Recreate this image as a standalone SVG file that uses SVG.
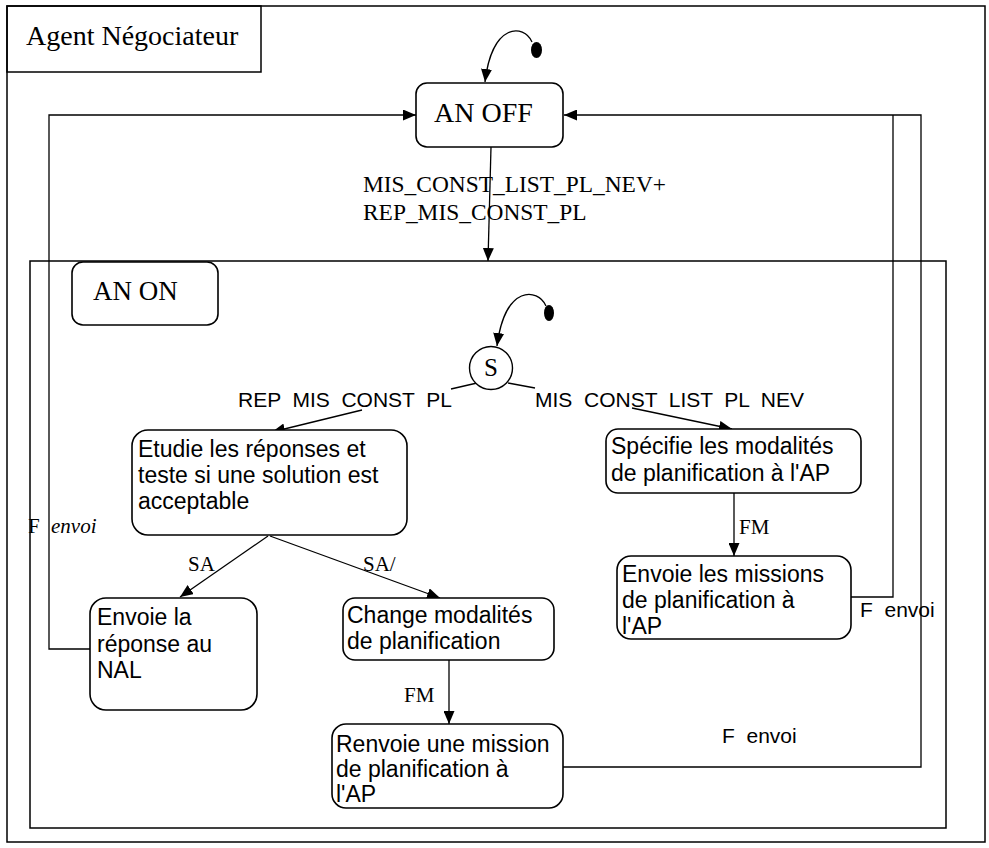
<svg xmlns="http://www.w3.org/2000/svg" width="989" height="848" viewBox="0 0 989 848">
<style>
.frame{fill:none;stroke:#000;stroke-width:1.5}
.box{fill:#fff;stroke:#000;stroke-width:1.6}
.ln{fill:none;stroke:#000;stroke-width:1.3}
.arr{fill:none;stroke:#000;stroke-width:1.3;marker-end:url(#ah)}
.serif{font-family:"Liberation Serif","Times New Roman",serif;fill:#000}
.sans{font-family:"Liberation Sans",Arial,sans-serif;fill:#000}
.big{font-size:28px}
.st{font-size:23px}
.tl{font-size:21px;word-spacing:5.8px}
.ts{font-size:21px}
</style>
<defs>
<marker id="ah" markerUnits="userSpaceOnUse" markerWidth="13" markerHeight="11" refX="13" refY="5.5" orient="auto">
<path d="M0,0 L13,5.5 L0,11 z" fill="#000"/>
</marker>
</defs>
<rect width="989" height="848" fill="#fff"/>

<g id="frame">
<rect class="frame" x="7" y="6" width="978" height="836"/>
<rect class="frame" x="7" y="6" width="254" height="66"/>
<text class="serif big" x="26" y="45">Agent Négociateur</text>
</g>

<g id="an-on">
<rect class="frame" x="30" y="261" width="916" height="567"/>
<rect class="box" x="72" y="262" width="146" height="63" rx="11"/>
<text class="serif" font-size="27" x="93" y="300">AN ON</text>
</g>

<g id="connectors">
<ellipse cx="536.5" cy="50" rx="5.5" ry="8" fill="#000"/>
<path class="arr" d="M532,42 C524,24 492,22 485,82"/>
<path class="arr" d="M491,147 L488,261"/>
<text class="serif" font-size="23.4" x="363" y="192">MIS_CONST_LIST_PL_NEV+</text>
<text class="serif" font-size="23.4" x="363" y="220">REP_MIS_CONST_PL</text>

<ellipse cx="549" cy="313" rx="5" ry="8" fill="#000"/>
<path class="arr" d="M546,306 C538,288 505,284 497,346"/>

<path class="ln" d="M477,383 L451,389"/>
<path class="arr" d="M362,410 L272,432"/>
<text class="sans tl" x="238" y="407">REP MIS CONST PL</text>

<path class="ln" d="M508,383 L535,388"/>
<path class="arr" d="M632,408 L732,429"/>
<text class="sans tl" x="535" y="407">MIS CONST LIST PL NEV</text>

<path class="arr" d="M268,536 L180,597"/>
<text class="serif ts" x="188" y="571">SA</text>
<path class="arr" d="M270,536 L440,598"/>
<text class="serif ts" x="363" y="571">SA/</text>

<path class="arr" d="M734,493 L734,556"/>
<text class="serif ts" x="739" y="534">FM</text>

<path class="arr" d="M449,660 L449,724"/>
<text class="serif ts" x="404" y="702">FM</text>

<path class="arr" d="M90,649 L49,649 L49,115 L416,115"/>
<text class="serif ts" x="28" y="533">F</text>
<text class="serif ts" x="51" y="533" font-style="italic">envoi</text>

<path class="arr" d="M563,767 L921,767 L921,115 L564,115"/>
<path class="ln" d="M851,597 L893,597 L893,115"/>
<text class="sans tl" x="860" y="617">F envoi</text>
<text class="sans tl" x="722" y="743">F envoi</text>
</g>

<g id="an-off">
<rect class="box" x="416" y="83" width="147" height="64" rx="11"/>
<text class="serif big" x="434" y="122">AN OFF</text>
</g>

<g id="s-junction">
<circle cx="491" cy="368" r="21.5" fill="#fff" stroke="#000" stroke-width="1.4"/>
<text class="serif" font-size="25" x="491" y="376" text-anchor="middle">S</text>
</g>

<g id="etudie">
<rect class="box" x="132" y="430" width="275" height="105" rx="16"/>
<text class="sans st" x="138" y="457">Etudie les réponses et</text>
<text class="sans st" x="138" y="483">teste si une solution est</text>
<text class="sans st" x="138" y="509">acceptable</text>
</g>

<g id="specifie">
<rect class="box" x="606" y="429" width="255" height="64" rx="12"/>
<text class="sans st" x="611" y="454">Spécifie les modalités</text>
<text class="sans st" x="611" y="481">de planification à l'AP</text>
</g>

<g id="envoie-missions">
<rect class="box" x="617" y="556" width="234" height="83" rx="14"/>
<text class="sans st" x="622" y="582">Envoie les missions</text>
<text class="sans st" x="622" y="608">de planification à</text>
<text class="sans st" x="622" y="634">l'AP</text>
</g>

<g id="envoie-reponse">
<rect class="box" x="90" y="598" width="167" height="112" rx="16"/>
<text class="sans st" x="97" y="625">Envoie la</text>
<text class="sans st" x="97" y="652">réponse au</text>
<text class="sans st" x="97" y="678">NAL</text>
</g>

<g id="change">
<rect class="box" x="343" y="598" width="211" height="62" rx="12"/>
<text class="sans st" x="347" y="623">Change modalités</text>
<text class="sans st" x="347" y="649">de planification</text>
</g>

<g id="renvoie">
<rect class="box" x="332" y="724" width="231" height="84" rx="14"/>
<text class="sans st" x="336" y="752">Renvoie une mission</text>
<text class="sans st" x="336" y="777">de planification à</text>
<text class="sans st" x="336" y="802">l'AP</text>
</g>
</svg>
